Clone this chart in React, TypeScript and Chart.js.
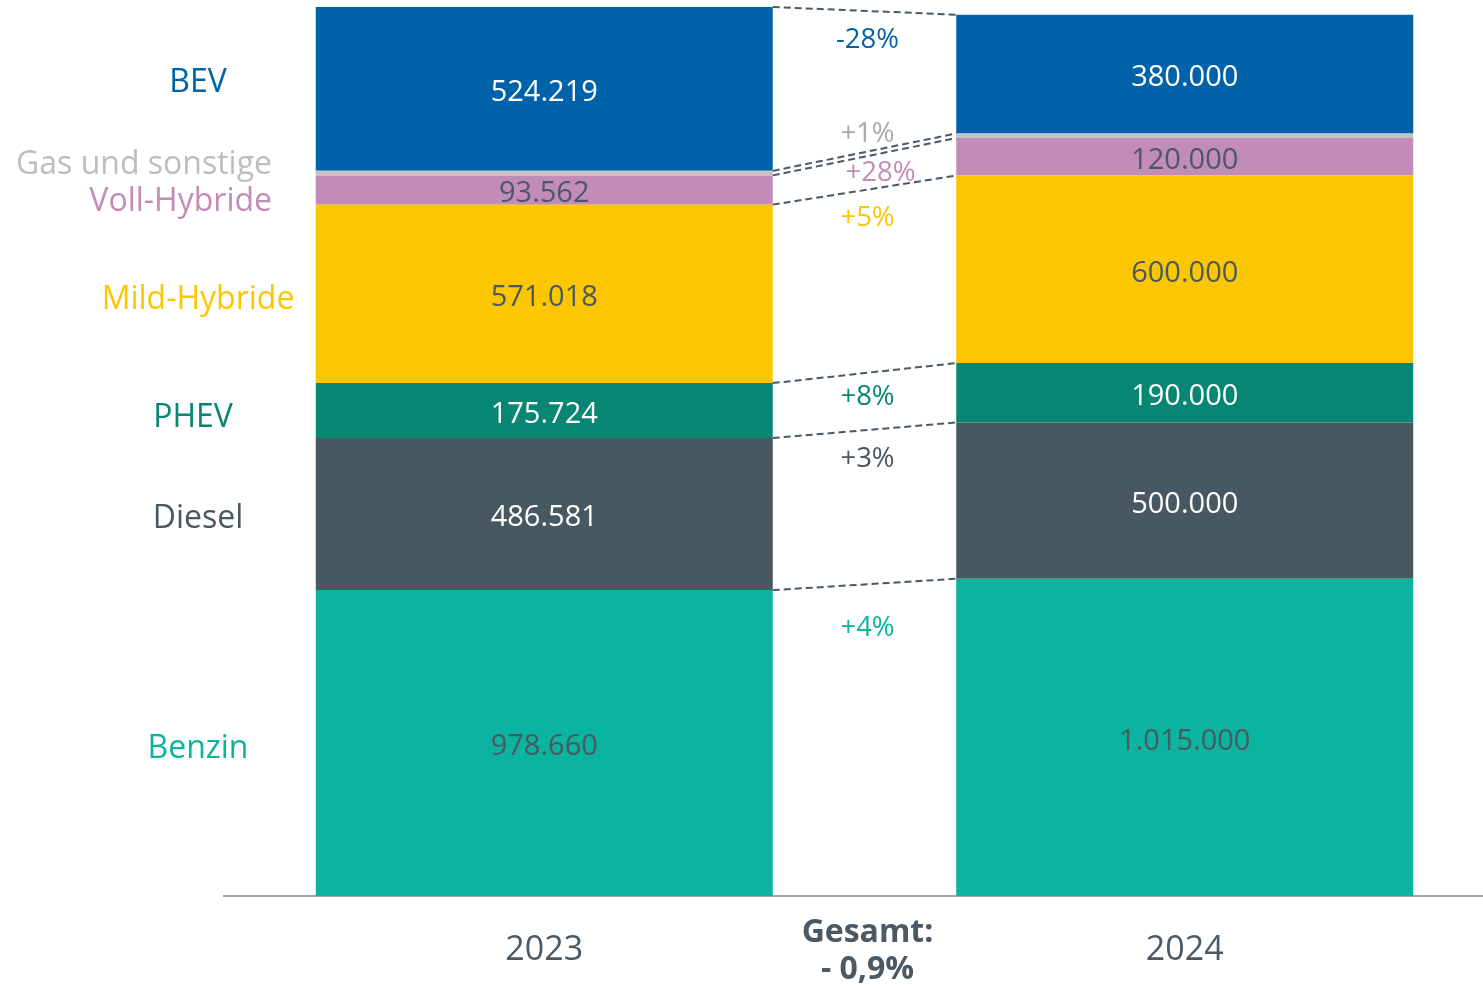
import React, { useEffect, useRef } from 'react';
import { Chart, registerables } from 'chart.js';

Chart.register(...registerables);

const years = ['2023', '2024'];
const categories = ['Benzin', 'Diesel', 'PHEV', 'Mild-Hybride', 'Voll-Hybride', 'Gas und sonstige', 'BEV'];
const values2023 = [978660, 486581, 175724, 571018, 93562, 14500, 524219];
const values2024 = [1015000, 500000, 190000, 600000, 120000, 14650, 380000];
const totalTitle = 'Gesamt:';

const segmentColors = ['#0BB49E', '#485862', '#068673', '#FCC600', '#C28BB8', '#C4C4C4', '#0062A9'];
const categoryTextColors = ['#0BB49E', '#485862', '#068673', '#FCC600', '#C28BB8', '#BDBDBD', '#0062A9'];
const changeTextColors = ['#0BB49E', '#485862', '#068673', '#FCC600', '#C28BB8', '#A8A8A8', '#0062A9'];
const valueTextColors = ['#4A5963', '#FFFFFF', '#FFFFFF', '#4A5963', '#4A5963', '#4A5963', '#FFFFFF'];
const showValue = [true, true, true, true, true, false, true];

const FONT = "'Open Sans', sans-serif";
const DARK = '#4A5963';

// label nudges (layout only)
const leftNudgeY = [6, 5, 7, 6, 12, -8, -6];
const changeNudgeY = [44, 29, 24, 28, 16, -18, 29];
const changeNudgeX = [3, 3, 3, 3, 16, 3, 3];

function fmtThousands(n: number): string {
  return String(n).replace(/\B(?=(\d{3})+(?!\d))/g, '.');
}

function fmtChange(a: number, b: number): string {
  const p = Math.round((b / a - 1) * 100);
  return (p > 0 ? '+' : p < 0 ? '-' : '±') + Math.abs(p) + '%';
}

const overlayPlugin = {
  id: 'overlay',
  afterDatasetsDraw(chart: any) {
    const ctx = chart.ctx;
    ctx.save();
    const n = chart.data.datasets.length;
    // dashed connectors
    for (let i = 0; i < n; i++) {
      const meta = chart.getDatasetMeta(i);
      const b0 = meta.data[0].getProps(['x', 'y', 'base', 'width'], true);
      const b1 = meta.data[1].getProps(['x', 'y', 'base', 'width'], true);
      ctx.beginPath();
      ctx.setLineDash([7, 4]);
      ctx.lineWidth = 2;
      ctx.strokeStyle = DARK;
      ctx.moveTo(b0.x + b0.width / 2, b0.y);
      ctx.lineTo(b1.x - b1.width / 2, b1.y);
      ctx.stroke();
    }
    ctx.setLineDash([]);
    ctx.textBaseline = 'middle';
    for (let i = 0; i < n; i++) {
      const meta = chart.getDatasetMeta(i);
      const b0 = meta.data[0].getProps(['x', 'y', 'base', 'width'], true);
      const b1 = meta.data[1].getProps(['x', 'y', 'base', 'width'], true);
      const ds = chart.data.datasets[i];
      // values inside bars
      if (showValue[i]) {
        ctx.font = `29px ${FONT}`;
        ctx.fillStyle = valueTextColors[i];
        ctx.textAlign = 'center';
        [b0, b1].forEach((b: any, j: number) => {
          ctx.fillText(fmtThousands(ds.data[j]), b.x, (b.y + b.base) / 2 + 4);
        });
      }
      // change labels
      const mx = (b0.x + b0.width / 2 + b1.x - b1.width / 2) / 2 + changeNudgeX[i];
      const my = (b0.y + b1.y) / 2 + changeNudgeY[i];
      ctx.font = `27.5px ${FONT}`;
      ctx.fillStyle = changeTextColors[i];
      ctx.textAlign = 'center';
      ctx.fillText(fmtChange(ds.data[0], ds.data[1]), mx, my);
      // category labels on the left
      ctx.font = `32px ${FONT}`;
      ctx.fillStyle = categoryTextColors[i];
      const ly = (b0.y + b0.base) / 2 + leftNudgeY[i];
      if (i === 4 || i === 5) {
        ctx.textAlign = 'right';
        ctx.fillText(ds.label, 272, ly);
      } else {
        ctx.textAlign = 'center';
        ctx.fillText(ds.label, i === 2 ? 193 : 198, ly);
      }
    }
    // total change
    const t0 = values2023.reduce((a, b) => a + b, 0);
    const t1 = values2024.reduce((a, b) => a + b, 0);
    const tp = (t1 / t0 - 1) * 100;
    const tpTxt = (tp < 0 ? '- ' : '+ ') + Math.abs(tp).toFixed(1).replace('.', ',') + '%';
    const m0 = chart.getDatasetMeta(0).data[0].getProps(['x', 'width'], true);
    const m1 = chart.getDatasetMeta(0).data[1].getProps(['x', 'width'], true);
    const cx = (m0.x + m0.width / 2 + m1.x - m1.width / 2) / 2 + 3;
    ctx.font = `bold 32px ${FONT}`;
    ctx.fillStyle = DARK;
    ctx.textAlign = 'center';
    ctx.fillText(totalTitle, cx, 933);
    ctx.fillText(tpTxt, cx, 970);
    ctx.restore();
  },
};

export default function App() {
  const ref = useRef<HTMLCanvasElement | null>(null);
  useEffect(() => {
    if (!ref.current) return;
    const chart = new Chart(ref.current, {
      type: 'bar',
      data: {
        labels: years,
        datasets: categories.map((c, i) => ({
          label: c,
          data: [values2023[i], values2024[i]],
          backgroundColor: segmentColors[i],
          borderWidth: 0,
          barPercentage: 0.7135,
          categoryPercentage: 1,
        })),
      },
      options: {
        responsive: false,
        animation: false,
        layout: { padding: { left: 224, right: 5, top: 0, bottom: 0 } },
        plugins: { legend: { display: false }, tooltip: { enabled: false } },
        scales: {
          x: {
            stacked: true,
            offset: true,
            grid: { display: false },
            border: { display: true, color: '#A0A4A8', width: 2 },
            ticks: { color: DARK, font: { family: FONT, size: 34 }, padding: 26, maxRotation: 0 },
            afterFit: (s: any) => {
              s.height = 89;
            },
          },
          y: { stacked: true, display: false, min: 0, max: 2866700 },
        },
      },
      plugins: [overlayPlugin],
    } as any);
    return () => chart.destroy();
  }, []);
  return (
    <div style={{ position: 'absolute', left: 0, top: 0, width: 1483, height: 985, overflow: 'hidden', background: '#fff' }}>
      <canvas ref={ref} width={1510} height={985} style={{ display: 'block' }} />
    </div>
  );
}
